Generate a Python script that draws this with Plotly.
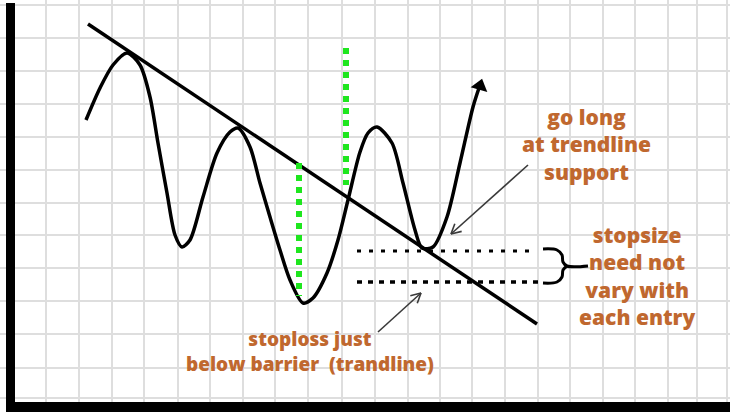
import numpy as np
import plotly.graph_objects as go

# ---- data (sketch coordinates in pixel units of the drawing) ----
grid_x = [46, 79, 112, 144, 178, 210, 243, 275, 308, 342, 375, 408, 440, 472,
          505, 538, 570, 603, 635, 668, 697, 727]
grid_y = [5, 38, 71, 104, 137, 170, 203, 235, 268, 301, 334, 368, 398]

price_x = [86, 100, 113, 127, 140, 150, 158, 167, 175, 182, 190, 203, 217, 230, 238,
           250, 260, 270, 280, 290, 303, 313, 327, 338, 348, 360, 368, 377, 392, 403,
           415, 422, 433, 447, 460, 473, 479]
price_y = [120, 88, 65, 53, 65, 97, 143, 193, 235, 247, 240, 197, 153, 132, 128,
           147, 183, 217, 250, 280, 303, 298, 273, 240, 200, 152, 133, 127, 143, 183,
           230, 248, 247, 217, 163, 107, 88]

trend_x = [88, 537]
trend_y = [24, 324]

green1_x = [299, 299]
green1_y = [163, 296]
green2_x = [346, 346]
green2_y = [48, 185]

entry_x = [357, 530]
entry_y = [251, 251]
stop_x = [357, 542]
stop_y = [282, 282]

brace_x = [543, 557, 562, 563, 567, 588, None, 567, 563, 562, 557, 543]
brace_y = [249, 250, 255, 262, 266, 266, None, 266, 270, 277, 282, 283]

arrow1 = [(528, 165), (451, 234)]
arrow2 = [(378, 332), (421, 293)]

label_texts = ["go long<br>at trendline<br>support",
               "stopsize<br>need not<br>vary with<br>each entry",
               "stoploss just<br>below barrier  (trandline)"]
label_x = [586, 637, 310]
label_y = [144, 276, 351]
label_size = [21, 21, 19]

TXT = "#c0682f"

fig = go.Figure()

# trendline
fig.add_trace(go.Scatter(x=trend_x, y=trend_y, mode="lines",
                         line=dict(color="black", width=3.5), hoverinfo="skip"))
# price path
fig.add_trace(go.Scatter(x=price_x, y=price_y, mode="lines",
                         line=dict(color="black", width=3.5, shape="spline", smoothing=0.8),
                         hoverinfo="skip"))
# arrowhead at end of price path
fig.add_trace(go.Scatter(x=[price_x[-1] + 1], y=[price_y[-1] - 2], mode="markers",
                         marker=dict(symbol="triangle-up", size=15, angle=16, color="black"),
                         hoverinfo="skip"))

# green dotted verticals
for gx, gy in [(green1_x, green1_y), (green2_x, green2_y)]:
    fig.add_trace(go.Scatter(x=gx, y=gy, mode="lines",
                             line=dict(color="#1ee61e", width=6, dash="6px,6px"),
                             hoverinfo="skip"))

# black dotted horizontals
fig.add_trace(go.Scatter(x=entry_x, y=entry_y, mode="lines",
                         line=dict(color="black", width=3, dash="4px,8px"), hoverinfo="skip"))
fig.add_trace(go.Scatter(x=stop_x, y=stop_y, mode="lines",
                         line=dict(color="black", width=3.5, dash="5px,6px"), hoverinfo="skip"))

# brace
fig.add_trace(go.Scatter(x=brace_x, y=brace_y, mode="lines",
                         line=dict(color="black", width=3, shape="spline"),
                         hoverinfo="skip", connectgaps=False))

# thin pointer arrows with open heads
for (x0, y0), (x1, y1) in [arrow1, arrow2]:
    v = np.array([x1 - x0, y1 - y0], dtype=float)
    v /= np.linalg.norm(v)
    L = 11
    hx, hy = [], []
    for a in (np.radians(28), -np.radians(28)):
        r = np.array([[np.cos(a), -np.sin(a)], [np.sin(a), np.cos(a)]]) @ (-v)
        hx += [x1 + L * r[0], x1, None]
        hy += [y1 + L * r[1], y1, None]
    fig.add_trace(go.Scatter(x=[x0, x1, None] + hx, y=[y0, y1, None] + hy, mode="lines",
                             line=dict(color="#3a3a3a", width=1.6), hoverinfo="skip"))

for text, tx, ty, ts in zip(label_texts, label_x, label_y, label_size):
    fig.add_annotation(x=tx, y=ty, text=text, showarrow=False, xanchor="center",
                       yanchor="middle",
                       font=dict(family="Open Sans", size=ts, color=TXT, weight=800),
                       align="center")

# black frame bars
fig.add_shape(type="rect", x0=6, x1=15, y0=3, y1=412, fillcolor="black",
              line=dict(width=0), layer="above")
fig.add_shape(type="rect", x0=6, x1=730, y0=402, y1=412, fillcolor="black",
              line=dict(width=0), layer="above")

fig.update_layout(
    width=730, height=412,
    margin=dict(l=0, r=0, t=0, b=0),
    paper_bgcolor="white", plot_bgcolor="white",
    showlegend=False,
    xaxis=dict(range=[0, 730], tickvals=grid_x, showticklabels=False, showgrid=True,
               gridcolor="#dedede", gridwidth=2, zeroline=False, showline=False,
               fixedrange=True),
    yaxis=dict(range=[412, 0], tickvals=grid_y, showticklabels=False, showgrid=True,
               gridcolor="#dedede", gridwidth=2, zeroline=False, showline=False,
               fixedrange=True),
)

fig.write_html("out.html", config={"displayModeBar": False},
               post_script="document.body.style.margin='0';document.body.style.overflow='hidden';")
